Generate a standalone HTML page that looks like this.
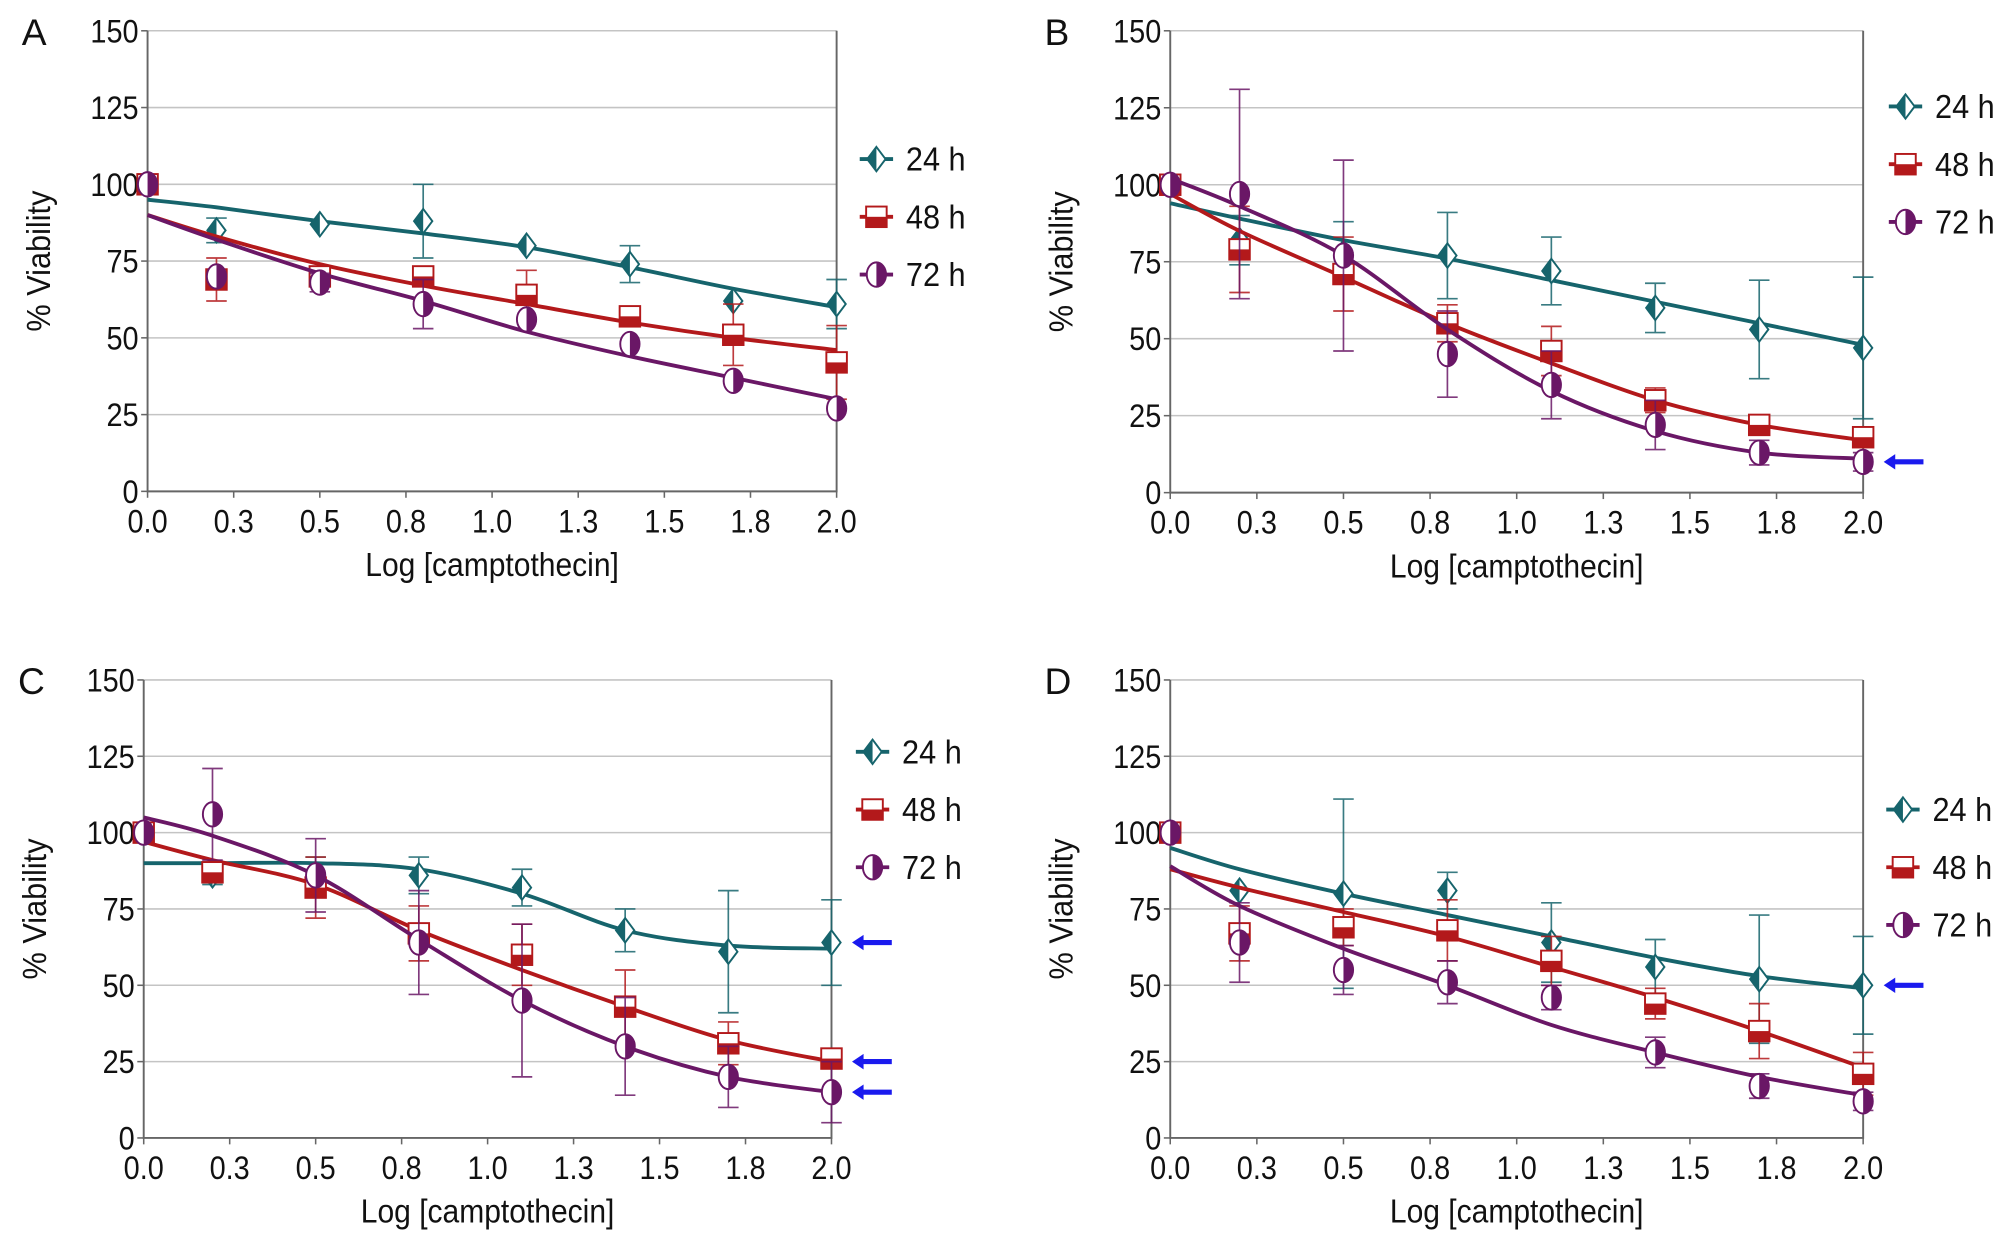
<!DOCTYPE html>
<html><head><meta charset="utf-8"><style>
html,body{margin:0;padding:0;background:#fff;}
svg{display:block;font-family:"Liberation Sans",Arial,sans-serif;}
</style></head><body>
<svg id="fig" width="2012" height="1247" viewBox="0 0 1568 972" preserveAspectRatio="none" xmlns="http://www.w3.org/2000/svg"></svg>
<script>
// ---- data ----
const xValues = [0, 0.2, 0.5, 0.8, 1.1, 1.4, 1.7, 2.0];
const xTickLabels = ["0.0","0.3","0.5","0.8","1.0","1.3","1.5","1.8","2.0"];
const yTickLabels = [0,25,50,75,100,125,150];
const seriesNames = ["24 h","48 h","72 h"];

const A24 = [100,85,87,88,80,74,62,61];
const A24err = [0,4,0,12,0,6,0,8];
const A24fit = [95,92.5,88,84,79.5,73,66,60];
const A48 = [100,69,70,70,64,57,51,42];
const A48err = [0,7,3,3,8,0,10,12];
const A48fit = [90,83,74,67,61,55,50,46];
const A72 = [100,70,68,61,56,48,36,27];
const A72err = [0,0,3,8,0,0,0,0];
const A72fit = [90,82,71,62,52,44,37,30];

const B24 = [100,82,78,77,72,60,53,47];
const B24err = [0,8,10,14,11,8,16,23];
const B24fit = [94,89,82,76,69,62,55,48];
const B48 = [100,79,71,55,46,30,22,18];
const B48err = [0,14,12,6,8,4,3,3];
const B48fit = [97,85,70,55,42,30,22,17];
const B72 = [100,97,77,45,35,22,13,10];
const B72err = [0,34,31,14,11,8,4,3];
const B72fit = [102,93,77,53,33,20,13,11];

const C24 = [100,86,86,86,82,68,61,64];
const C24err = [0,3,6,6,6,7,20,14];
const C24fit = [90,90,90,88,80,68,63,62];
const C48 = [100,87,82,67,60,43,31,26];
const C48err = [0,3,10,9,10,12,7,3];
const C48fit = [97,91,83,68,55,43,32,25];
const C72 = [100,106,86,64,45,30,20,15];
const C72err = [0,15,12,17,25,16,10,10];
const C72fit = [105,99,86,65,45,30,20,15];

const D24 = [100,81,80,81,64,56,52,50];
const D24err = [0,0,31,6,13,9,21,16];
const D24fit = [95,88,80,73,66,59,53,49];
const D48 = [100,67,69,68,58,44,35,21];
const D48err = [0,9,6,10,8,5,9,7];
const D48fit = [88,82,74,66,56,46,35,23];
const D72 = [100,64,55,51,46,28,17,12];
const D72err = [0,13,8,7,4,5,4,3];
const D72fit = [89,76,62,50,37,28,20,14];

const arrowsB = [10];
const arrowsC = [64,25,15];
const arrowsD = [50];

const colors = ["#16646c","#b3191b","#6a1766"];
const NS = "http://www.w3.org/2000/svg";
const svg = document.getElementById("fig");

function mk(tag, attrs, parent){
  const e = document.createElementNS(NS, tag);
  for (const k in attrs) e.setAttribute(k, attrs[k]);
  (parent||svg).appendChild(e);
  return e;
}

function panel(cfg){
  const g = mk("g",{});
  
  
  const {L,R,T,B} = cfg;
  const sx = v => L + (v/2.0)*(R-L);
  const sy = v => B - (v/150)*(B-T);
  yTickLabels.forEach(v=>{
    if (v>0) {
      const gl = mk("line",{x1:L,x2:R,y1:sy(v),y2:sy(v),stroke:"#c4c4c4","stroke-width":1.2},g);
      
      
    }
    const tk = mk("line",{x1:L-5,x2:L,y1:sy(v),y2:sy(v),stroke:"#666","stroke-width":1.2},g);
    
    
    const t = mk("text",{x:L-7,y:sy(v)+9,"text-anchor":"end","font-size":25,fill:"#111",transform:`translate(${(L-7)*0.1},0) scale(0.9,1)`},g);
    t.textContent = v;
    
    
  });
  const ax = mk("path",{d:`M${L},${T}V${B}H${R}V${T}`,fill:"none",stroke:"#666","stroke-width":1.5},g);
  
  
  xTickLabels.forEach((lab,i)=>{
    const x = L + i*(R-L)/8;
    const tk = mk("line",{x1:x,x2:x,y1:B,y2:B+5,stroke:"#666","stroke-width":1.2},g);
    
    
    const t = mk("text",{x:x,y:B+32,"text-anchor":"middle","font-size":25,fill:"#111",transform:`translate(${x*0.1},0) scale(0.9,1)`},g);
    t.textContent = lab;
    
    
  });
  const cx = (L+R)/2;
  const xt = mk("text",{x:cx,y:B+66,"text-anchor":"middle","font-size":26,fill:"#111",transform:`translate(${cx*0.1},0) scale(0.9,1)`},g);
  xt.textContent = "Log [camptothecin]";
  
  
  const yt = mk("text",{x:0,y:0,"text-anchor":"middle","font-size":26,fill:"#111",transform:`translate(${L-76},${(T+B)/2}) rotate(-90) scale(0.92,1)`},g);
  yt.textContent = "% Viability";
  
  
  const pl = mk("text",{x:L-98,y:T+11,"font-size":29,fill:"#111"},g);
  pl.textContent = cfg.letter;
  
  

  cfg.series.forEach((s,si)=>{
    const col = colors[si];
    const pts = xValues.map((x,i)=>[sx(x), sy(s.fit[i])]);
    let d = `M${pts[0][0]},${pts[0][1]}`;
    for (let i=0;i<pts.length-1;i++){
      const p0=pts[Math.max(0,i-1)],p1=pts[i],p2=pts[i+1],p3=pts[Math.min(pts.length-1,i+2)];
      const c1=[p1[0]+(p2[0]-p0[0])/6,p1[1]+(p2[1]-p0[1])/6];
      const c2=[p2[0]-(p3[0]-p1[0])/6,p2[1]-(p3[1]-p1[1])/6];
      d+=`C${c1[0]},${c1[1]} ${c2[0]},${c2[1]} ${p2[0]},${p2[1]}`;
    }
    const fc = mk("path",{d:d,fill:"none",stroke:col,"stroke-width":3},g);
    
    
    s.vals.forEach((v,i)=>{
      const x = sx(xValues[i]), y = sy(v), e = s.err[i];
      if (e>0){
        const eb = mk("path",{d:`M${x},${sy(v+e)}V${sy(v-e)}M${x-8},${sy(v+e)}H${x+8}M${x-8},${sy(v-e)}H${x+8}`,stroke:col,"stroke-width":1.3,fill:"none",opacity:0.85},g);
        
        
      }
      const m = marker(g, si, x, y, col);
      
      
    });
  });
  (cfg.arrows||[]).forEach(v=>{
    const y = sy(v), x = R+16;
    const a = mk("path",{d:`M${x},${y}l9,-6v4h22v4h-22v4z`,fill:"#1a1aee"},g);
    
    
  });
  seriesNames.forEach((n,si)=>{
    const lx = cfg.lgx, ly = cfg.lgy + si*cfg.lgdy;
    const lg = mk("g",{},g);
    
    
    mk("line",{x1:lx,x2:lx+26,y1:ly,y2:ly,stroke:colors[si],"stroke-width":3},lg);
    marker(lg, si, lx+13, ly, colors[si]);
    const tx = lx+36;
    const t = mk("text",{x:tx,y:ly+9,"font-size":26,fill:"#111",transform:`translate(${tx*0.08},0) scale(0.92,1)`},lg);
    t.textContent = n;
  });
}

function marker(parent, kind, x, y, col){
  const m = mk("g",{},parent);
  const r = 9.5;
  if (kind===0){
    mk("path",{d:`M${x},${y-r}L${x+r*0.75},${y}L${x},${y+r}L${x-r*0.75},${y}Z`,fill:"#fff",stroke:col,"stroke-width":1.5},m);
    mk("path",{d:`M${x},${y-r}L${x-r*0.75},${y}L${x},${y+r}Z`,fill:col},m);
  } else if (kind===1){
    mk("rect",{x:x-8,y:y-8,width:16,height:16,fill:"#fff",stroke:col,"stroke-width":1.5},m);
    mk("rect",{x:x-8,y:y,width:16,height:8,fill:col},m);
  } else {
    mk("ellipse",{cx:x,cy:y,rx:7.5,ry:9.5,fill:"#fff",stroke:col,"stroke-width":1.5},m);
    mk("path",{d:`M${x},${y-9.5}A7.5,9.5 0 0 1 ${x},${y+9.5}Z`,fill:col},m);
  }
  return m;
}

panel({letter:"A",L:115,R:652,T:24,B:383,lgx:670,lgy:124,lgdy:45,
  series:[{vals:A24,err:A24err,fit:A24fit},{vals:A48,err:A48err,fit:A48fit},{vals:A72,err:A72err,fit:A72fit}]});
panel({letter:"B",L:912,R:1452,T:24,B:384,lgx:1472,lgy:83,lgdy:45,arrows:arrowsB,
  series:[{vals:B24,err:B24err,fit:B24fit},{vals:B48,err:B48err,fit:B48fit},{vals:B72,err:B72err,fit:B72fit}]});
panel({letter:"C",L:112,R:648,T:530,B:887,lgx:667,lgy:586,lgdy:45,arrows:arrowsC,
  series:[{vals:C24,err:C24err,fit:C24fit},{vals:C48,err:C48err,fit:C48fit},{vals:C72,err:C72err,fit:C72fit}]});
panel({letter:"D",L:912,R:1452,T:530,B:887,lgx:1470,lgy:631,lgdy:45,arrows:arrowsD,
  series:[{vals:D24,err:D24err,fit:D24fit},{vals:D48,err:D48err,fit:D48fit},{vals:D72,err:D72err,fit:D72fit}]});
</script>
</body></html>
